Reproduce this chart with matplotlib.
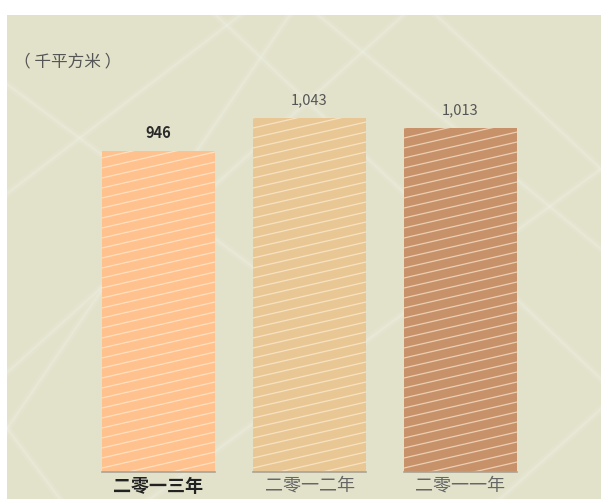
import matplotlib
matplotlib.use("Agg")
import matplotlib.pyplot as plt
import numpy as np
from matplotlib.patches import Rectangle
from matplotlib.lines import Line2D

plt.rcParams['font.family'] = ['Noto Sans CJK SC', 'DejaVu Sans']

categories = ["二零一三年", "二零一二年", "二零一一年"]
values = [946, 1043, 1013]
value_labels = ["946", "1,043", "1,013"]
bar_colors = ["#FFC18D", "#E8C794", "#C7916A"]
unit_label = "（ 千平方米 ）"

W, H = 601, 499
fig = plt.figure(figsize=(W / 100, H / 100), dpi=100)
fig.patch.set_facecolor("white")

# background panel
panel = Rectangle((7 / W, 0), 1 - 7 / W, (H - 15) / H, transform=fig.transFigure,
                  facecolor="#E2E2CB", edgecolor="none", zorder=0)
fig.add_artist(panel)

# faint, soft scratch texture (decorative)
streaks = [((0, 120), (420, 499)), ((150, 0), (601, 330)),
           ((300, 499), (601, 250)), ((0, 300), (260, 499)),
           ((420, 499), (601, 330)), ((0, 420), (350, 160)),
           ((200, 499), (601, 120)), ((0, 60), (300, 499)),
           ((60, 0), (0, 80)), ((500, 0), (601, 90))]
for (p0, p1) in streaks:
    for lw, a in ((6, 0.06), (3, 0.08), (1.2, 0.12)):
        ln = Line2D([p0[0] / W, p1[0] / W], [p0[1] / H, p1[1] / H],
                    transform=fig.transFigure, color="white", lw=lw, alpha=a, zorder=0.5)
        ln.set_clip_path(panel)
        fig.add_artist(ln)

ax_left, ax_right = 7, 601
ax_bottom_px, ax_top_px = 472, 15
ax = fig.add_axes([ax_left / W, (H - ax_bottom_px) / H, (ax_right - ax_left) / W,
                   (ax_bottom_px - ax_top_px) / H])
ax.set_zorder(2)
ax.set_facecolor("none")
px_per_unit_x = 151
px_per_val = 0.3395
x = np.arange(len(categories))
ax.set_xlim(-(158.5 - ax_left) / px_per_unit_x, (ax_right - 158.5) / px_per_unit_x)
ax.set_ylim(0, (ax_bottom_px - ax_top_px) / px_per_val)
for s in ax.spines.values():
    s.set_visible(False)
ax.set_xticks([])
ax.set_yticks([])

width = 113 / px_per_unit_x
bars = ax.bar(x, values, width=width, color=bar_colors, edgecolor="none", zorder=2)

# hatch lines (shallow slope, rising to the right), clipped to bars
slope_px = 0.23
spacing_px = 10.0
for b in bars:
    x0 = b.get_x()
    x1 = x0 + b.get_width()
    h = b.get_height()
    w_px = b.get_width() * px_per_unit_x
    rise = slope_px * w_px / px_per_val
    step = spacing_px / px_per_val
    for y0 in np.arange(-rise, h + step, step):
        ln, = ax.plot([x0, x1], [y0, y0 + rise], color="#FFF1DC", lw=0.9, alpha=0.65,
                      zorder=3, solid_capstyle="butt")
        ln.set_clip_path(b)
    # baseline under bar
    ax.plot([x0, x1], [0, 0], color="#A9A393", lw=1.2, zorder=4, clip_on=False)

# value labels
for i, (b, lab) in enumerate(zip(bars, value_labels)):
    bold = i == 0
    ax.annotate(lab, (b.get_x() + b.get_width() / 2, b.get_height()), xytext=(0, 18),
                textcoords="offset pixels", ha="center", va="center",
                fontsize=10.5, fontweight="bold" if bold else "normal",
                color="#2A2A2A" if bold else "#555555")

# category labels
for i, c in enumerate(categories):
    bold = i == 0
    ax.annotate(c, (x[i], 0), xytext=(0, -14), textcoords="offset pixels",
                ha="center", va="center", fontsize=13,
                fontweight="bold" if bold else "normal",
                color="#222222" if bold else "#666666")

fig.text(14 / W, 1 - 62 / H, unit_label, ha="left", va="center", fontsize=12,
         color="#555555")

fig.savefig("out.png", dpi=100)
